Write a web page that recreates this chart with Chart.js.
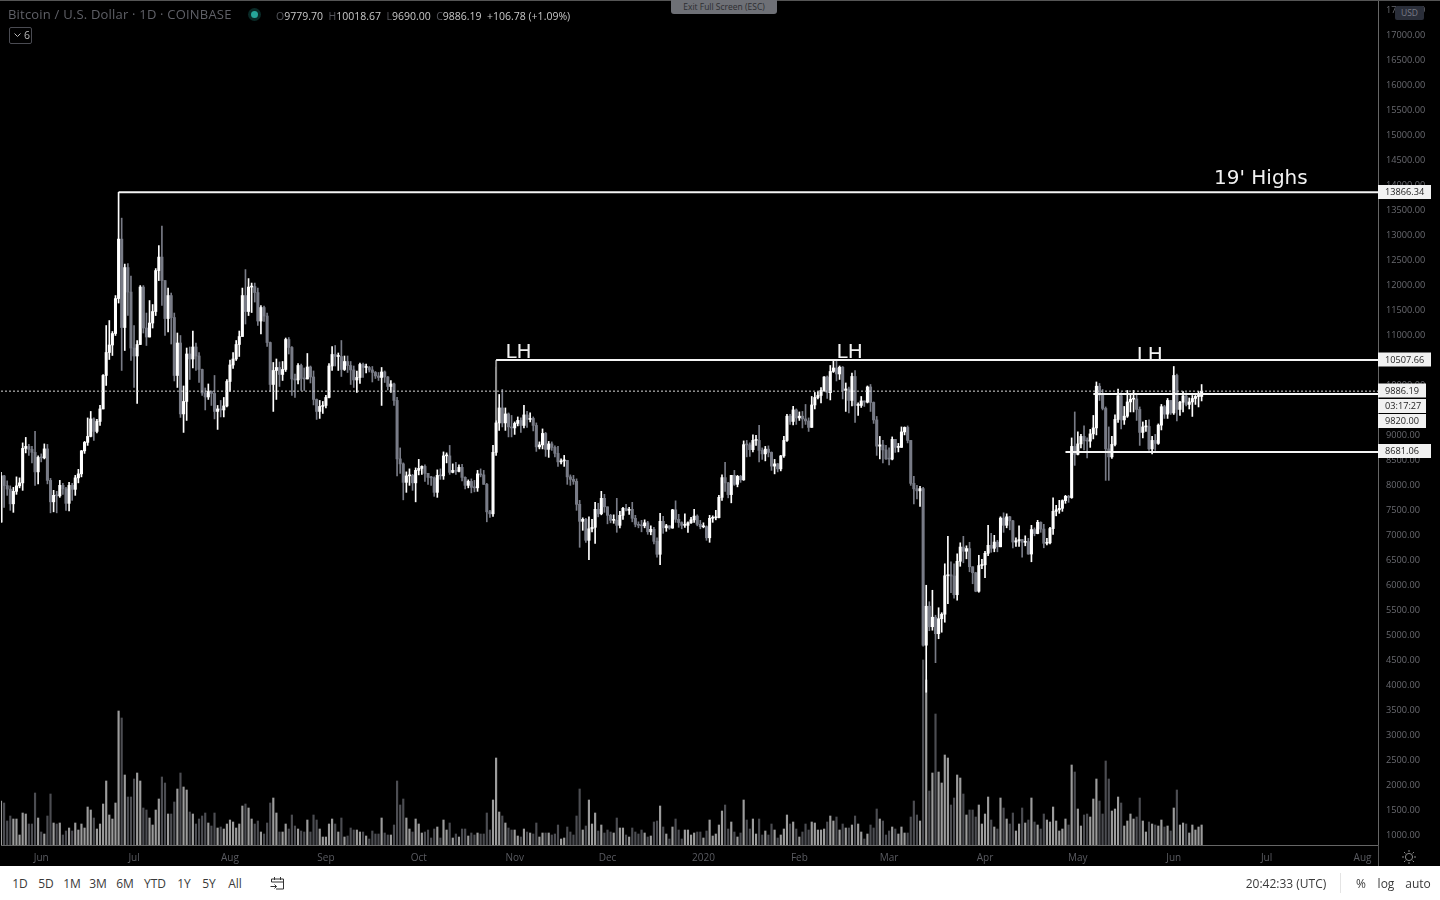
<!DOCTYPE html>
<html>
<head>
<meta charset="utf-8">
<title>Bitcoin / U.S. Dollar</title>
<script src="https://cdn.jsdelivr.net/npm/chart.js@4"></script>
<style>
    html, body { margin: 0; padding: 0; width: 1440px; height: 900px; background: #fff; overflow: hidden; font-family: "Open Sans", sans-serif; }
    #wrap { position: absolute; left: 0; top: 0; width: 1440px; height: 866px; background: #000; }
    #topline { position: absolute; left: 0; top: 0; width: 1440px; height: 1px; background: #555; }
    #title { position: absolute; left: 8px; top: 5px; font-size: 13px; color: #5f6067; letter-spacing: .2px; white-space: nowrap; }
    #dot { position: absolute; left: 251px; top: 11px; width: 7px; height: 7px; border-radius: 50%; background: #26a69a; box-shadow: 0 0 0 3px rgba(38,166,154,.25); }
    #ohlc { position: absolute; left: 276px; top: 9px; font-size: 10.5px; color: #c8c8c8; white-space: nowrap; }
    #ohlc i { font-style: normal; color: #55565c; }
    #fold { position: absolute; left: 9px; top: 27px; width: 21px; height: 15px; border: 1px solid #4a4b52; border-radius: 2px; color: #b8b8b8; font-size: 10.5px; line-height: 15px; white-space: nowrap; }
    #fold svg { position: absolute; left: 4px; top: 5px; }
    #fold span { position: absolute; left: 14px; top: 0; }
    #exit { position: absolute; left: 671px; top: 0; width: 106px; height: 14px; background: #6e7076; border-radius: 0 0 3px 3px; color: #2c2d31; font-size: 8.5px; line-height: 13px; text-align: center; }
    #usd { position: absolute; left: 1395px; top: 6px; width: 29px; height: 14px; background: #2a2e39; border-radius: 2px; color: #787b86; font-size: 8.5px; line-height: 14px; text-align: center; }
    #sep { position: absolute; left: 1378px; top: 845px; width: 1px; height: 21px; background: #555; }
    #gear { position: absolute; left: 1402px; top: 850px; }
    #bar { position: absolute; left: 0; top: 866px; width: 1440px; height: 34px; background: #fff; color: #3a3a3a; font-size: 12px; }
    #bar span { position: absolute; top: 9px; transform: translateX(-50%); white-space: nowrap; }
    #bar svg { position: absolute; left: 270px; top: 10px; }
    #bar b { position: absolute; left: 1340px; top: 7px; width: 1px; height: 20px; background: #e4e4e4; }
</style>
</head>
<body>
<div id="wrap"><canvas id="chart" width="1440" height="866"></canvas></div>
<div id="topline"></div>
<div id="title">Bitcoin / U.S. Dollar · 1D · COINBASE</div>
<div id="dot"></div>
<div id="ohlc"><i>O</i>9779.70 &nbsp;<i>H</i>10018.67 &nbsp;<i>L</i>9690.00 &nbsp;<i>C</i>9886.19 &nbsp;+106.78 (+1.09%)</div>
<div id="fold"><svg width="7" height="5" viewBox="0 0 7 5" fill="none" stroke="#b8b8b8" stroke-width="1"><path d="M0.5 0.5l3 3 3-3"/></svg><span>6</span></div>
<div id="exit">Exit Full Screen (ESC)</div>
<div id="usd">USD</div>
<div id="sep"></div>
<svg id="gear" width="14" height="14" viewBox="0 0 14 14" fill="none" stroke="#8a8a8a" stroke-width="1"><circle cx="7" cy="7" r="3.6"/><path d="M7 0v2M7 12v2M0 7h2M12 7h2M2 2l1.4 1.4M10.6 10.6L12 12M2 12l1.4-1.4M10.6 3.4L12 2"/></svg>
<div id="bar">
    <span style="left:20px">1D</span><span style="left:46px">5D</span><span style="left:72px">1M</span><span style="left:98px">3M</span><span style="left:125px">6M</span><span style="left:155px">YTD</span><span style="left:184px">1Y</span><span style="left:209px">5Y</span><span style="left:235px">All</span>
    <svg width="15" height="15" viewBox="0 0 15 15" fill="none" stroke="#333" stroke-width="1"><path d="M1.5 6V3h12v10H6M1.5 6h12M4.5 1v3M10.5 1v3M0.5 10.5h6M4.5 8.5l2 2-2 2"/></svg>
    <span style="left:1286px">20:42:33 (UTC)</span><b></b>
    <span style="left:1361px">%</span><span style="left:1386px">log</span><span style="left:1418px">auto</span>
</div>
<script>
// candles, one row per month, May 19 2019 -> Jun 10 2020
const opens = [
    7262,8190,7995,7925,7630,7880,7990,8050,8740,8780,8720,8660,8270,
    8560,8550,8730,8100,7670,7800,7790,8000,7930,7640,8000,7920,8150,8230,8690,8860,8980,9330,9080,9280,9530,10200,10660,10810,11040,11740,12930,11160,12360,11870,
    10750,10590,10820,11970,11150,10970,11250,11480,12300,12570,12100,11340,11800,11360,10200,10850,9430,9680,10630,10530,10770,10590,10320,9850,9770,9880,9840,9480,9530,9510,9590,
    10080,10410,10530,10820,10980,11800,11480,11970,11980,11860,11290,11560,11390,10860,10020,10300,10360,10220,10320,10920,10760,10130,10110,10400,10140,10130,10370,10170,9720,9480,9580,
    9600,9760,10390,10620,10580,10580,10320,10480,10400,10310,10110,10160,10420,10360,10360,10310,10260,10190,10160,10270,10170,9980,10030,9700,8530,8430,8060,8190,8200,8050,
    8300,8340,8380,8240,8160,8150,7860,8200,8190,8590,8590,8260,8300,8280,8360,8160,8000,8080,7960,7950,8230,8210,8020,7470,7430,8660,9250,9550,9250,9430,9170,
    9150,9240,9300,9200,9410,9320,9340,9200,8770,8810,9040,8720,8830,8760,8640,8470,8490,8500,8170,8120,8080,7620,7280,7320,6900,7130,7160,7520,7430,7740,
    7570,7400,7300,7300,7200,7400,7540,7500,7520,7340,7220,7200,7190,7250,7070,7120,6880,6620,7280,7150,7190,7145,7510,7320,7255,7200,7200,7250,7310,7385,7220,
    7170,7175,6950,7340,7350,7355,7760,8155,8050,7815,8200,8020,8180,8110,8815,8810,8715,8900,8900,8700,8630,8725,8660,8385,8430,8330,8590,8900,9385,9280,9510,
    9350,9385,9330,9290,9160,9610,9760,9800,9900,10170,9855,10280,10350,10230,10365,9900,9930,9700,10180,9600,9600,9690,9665,9970,9660,9310,8785,8810,8710,
    8530,8525,8920,8760,8760,9070,9160,8900,8040,7930,7890,7935,4800,5580,5170,5360,5030,5330,5420,6190,6210,6185,5810,6480,6765,6680,6735,6370,6250,5880,6395,
    6410,6640,6800,6740,6865,6770,7345,7200,7370,7290,6865,6890,6915,6860,6875,6625,7115,7035,7260,7125,6840,6850,7135,7480,7510,7540,7695,7780,7755,8780,
    8620,8830,8980,8895,8885,9030,9150,9985,9810,9540,8730,8570,8820,9320,9795,9310,9385,9670,9725,9730,9520,9060,9170,9180,8730,8900,8840,9205,9575,9425,9700,
    9450,10200,9520,9665,9790,9620,9670,9740,9780,9779.7
]
const highs = [
    8260,8200,8090,7990,7960,8170,8150,8850,8960,8820,8780,9080,8590,
    8630,8830,8820,8140,7900,7880,8100,8040,7960,8060,8040,8200,8320,8700,8880,9350,9480,9350,9320,9600,10220,11200,11300,11080,11800,13866,13350,12430,12440,12190,
    11200,10900,12000,12000,11450,11700,11620,12340,12800,13190,12100,11950,11850,11450,11050,11000,9990,10750,10770,11090,10850,10660,10330,9950,10030,9890,10200,9600,9700,9760,10120,
    10510,10660,10900,11090,11950,12320,12140,12050,12050,11950,11600,11590,11450,10870,10460,10530,10470,10480,10950,10960,10780,10230,10440,10430,10350,10640,10390,10290,9730,9700,9680,
    9800,10440,10780,10800,10650,10900,10590,10590,10480,10390,10290,10450,10450,10430,10380,10380,10280,10260,10360,10290,10180,10100,10050,9760,8750,8450,8270,8330,8220,8350,
    8520,8390,8410,8240,8180,8170,8310,8330,8670,8650,8800,8430,8460,8410,8420,8170,8110,8130,8100,8300,8330,8300,8040,7500,8800,10370,9820,9920,9550,9450,9400,
    9270,9370,9350,9600,9480,9450,9370,9250,8870,9130,9060,8880,8870,8790,8780,8530,8600,8500,8210,8200,8130,7700,7350,7340,7370,7320,7660,7640,7880,7820,
    7570,7420,7410,7740,7480,7560,7620,7560,7660,7400,7270,7300,7310,7280,7190,7160,6950,7440,7380,7220,7190,7520,7690,7420,7270,7430,7270,7360,7520,7410,7300,
    7250,7190,7400,7390,7500,7800,8210,8460,8060,8200,8300,8200,8200,8890,8900,8850,9010,9000,9200,8750,8780,8790,8670,8520,8440,8600,8980,9420,9420,9580,9530,
    9470,9480,9620,9350,9780,9860,9880,9960,10180,10190,10400,10500,10490,10390,10380,10050,9970,10250,10300,9650,9780,9690,9990,10020,9670,9380,8980,8900,8800,
    8750,8970,8920,8840,9170,9170,9190,8900,8180,8000,7980,7960,6000,5670,5900,5400,5550,5450,6430,6980,6470,6430,6630,6850,6980,6790,6860,6370,6260,6600,6520,
    6680,7200,7040,7000,6900,7370,7450,7430,7380,7300,6950,7190,6920,6990,6940,7200,7150,7300,7270,7220,6940,7160,7750,7600,7700,7710,7800,7800,8950,9470,
    9070,9020,9190,8950,9120,9400,10070,10040,9920,9570,9170,8980,9410,9930,9850,9580,9900,9820,9900,9830,9570,9270,9300,9310,8980,9020,9230,9620,9600,9740,9700,
    10380,10230,9680,9880,9850,9750,9800,9800,9880,10018.67
]
const lows = [
    7262,7560,7800,7500,7460,7820,7950,7900,8650,8600,8450,8000,8030,
    8470,8530,8030,7450,7470,7450,7760,7820,7500,7490,7700,7800,8050,8170,8640,8800,8970,8900,9050,9200,9530,10000,10520,10600,11000,11650,10300,10700,11400,10500,
    9960,9640,10820,11050,10800,10970,11150,11400,12100,11600,11000,11070,10830,10090,9960,9360,9060,9300,10120,10350,10300,10060,9800,9510,9720,9600,9330,9120,9370,9370,9570,
    9880,10340,10500,10580,10980,11230,11400,11460,11670,11200,11030,11280,10780,9880,9480,9720,9980,10100,10280,10630,9800,9760,10030,9900,9900,10130,10050,9610,9320,9340,9440,
    9550,9750,10300,10390,10300,10180,10300,10260,10020,9960,9860,10040,10160,10250,10270,10070,10140,10100,9600,10060,9910,9860,9600,8190,8240,7710,7860,8000,7900,7670,
    8210,8220,8080,8020,8000,7780,7760,8120,8120,8450,8220,8250,8220,8270,8090,7930,7950,7850,7870,7880,8170,8020,7270,7360,7380,8600,9100,9170,9100,8970,8970,
    9020,9190,9060,9150,9160,9270,9090,8680,8730,8730,8580,8560,8700,8570,8380,8430,8380,8020,8000,8020,7500,6760,7100,6860,6510,7070,6840,7370,7410,7460,
    7230,7250,7240,7060,7150,7320,7490,7420,7270,7170,7150,7070,7150,7020,7010,6830,6560,6410,7040,7080,7120,7140,7260,7160,7130,7160,7060,7240,7260,7190,7130,
    7150,6900,6860,7260,7310,7350,7700,7880,7750,7650,8000,7970,8060,8100,8570,8580,8670,8800,8470,8520,8490,8570,8300,8230,8270,8290,8560,8880,9220,9210,9220,
    9300,9150,9220,9080,9160,9530,9730,9650,9880,9740,9710,10260,10090,10120,9730,9480,9450,9590,9260,9400,9560,9580,9650,9480,9240,8600,8530,8450,8520,
    8410,8510,8660,8670,8760,9010,8850,8000,7630,7730,7580,4780,3858,5090,5100,4450,4930,5060,5260,5630,5850,5740,5700,6380,6450,6530,6270,6030,5870,5860,6330,
    6150,6590,6660,6670,6670,6770,7060,7150,7110,6750,6780,6780,6560,6790,6620,6470,6990,7030,7060,6750,6810,6830,7020,7390,7440,7480,7640,7660,7740,8400,
    8610,8750,8710,8550,8760,8930,9010,9700,9510,8100,8100,8540,8790,9260,9130,9220,9360,9470,9470,9300,8800,8950,9080,8700,8630,8700,8820,9110,9340,9340,9420,
    9420,9290,9400,9470,9590,9530,9380,9620,9570,9690
]
const closes = [
    8190,7995,7925,7630,7880,7990,8050,8740,8780,8720,8660,8270,8560,
    8550,8730,8100,7670,7800,7790,8000,7930,7640,8000,7920,8150,8230,8690,8860,8980,9330,9080,9280,9530,10200,10660,10810,11040,11740,12930,11160,12360,11870,10750,
    10590,10820,11970,11150,10970,11250,11480,12300,12570,12100,11340,11800,11360,10200,10850,9430,9680,10630,10530,10770,10590,10320,9850,9770,9880,9840,9480,9530,9510,9590,10080,
    10410,10530,10820,10980,11800,11480,11970,11980,11860,11290,11560,11390,10860,10020,10300,10360,10220,10320,10920,10760,10130,10110,10400,10140,10130,10370,10170,9720,9480,9580,9600,
    9760,10390,10620,10580,10580,10320,10480,10400,10310,10110,10160,10420,10360,10360,10310,10260,10190,10160,10270,10170,9980,10030,9700,8530,8430,8060,8190,8200,8050,8300,
    8340,8380,8240,8160,8150,7860,8200,8190,8590,8590,8260,8300,8280,8360,8160,8000,8080,7960,7950,8230,8210,8020,7470,7430,8660,9250,9550,9250,9430,9170,9150,
    9240,9300,9200,9410,9320,9340,9200,8770,8810,9040,8720,8830,8760,8640,8470,8490,8500,8170,8120,8080,7620,7280,7320,6900,7130,7160,7520,7430,7740,7570,
    7400,7300,7300,7200,7400,7540,7500,7520,7340,7220,7200,7190,7250,7070,7120,6880,6620,7280,7150,7190,7145,7510,7320,7255,7200,7200,7250,7310,7385,7220,7170,
    7175,6950,7340,7350,7355,7760,8155,8050,7815,8200,8020,8180,8110,8815,8810,8715,8900,8900,8700,8630,8725,8660,8385,8430,8330,8590,8900,9385,9280,9510,9350,
    9385,9330,9290,9160,9610,9760,9800,9900,10170,9855,10280,10350,10230,10365,9900,9930,9700,10180,9600,9600,9690,9665,9970,9660,9310,8785,8810,8710,8530,
    8525,8920,8760,8760,9070,9160,8900,8040,7930,7890,7935,4800,5580,5170,5360,5030,5330,5420,6190,6210,6185,5810,6480,6765,6680,6735,6370,6250,5880,6395,6410,
    6640,6800,6740,6865,6770,7345,7200,7370,7290,6865,6890,6915,6860,6875,6625,7115,7035,7260,7125,6840,6850,7135,7480,7510,7540,7695,7780,7755,8780,8620,
    8830,8980,8895,8885,9030,9150,9985,9810,9540,8730,8570,8820,9320,9795,9310,9385,9670,9725,9730,9520,9060,9170,9180,8730,8900,8840,9205,9575,9425,9700,9450,
    10200,9520,9665,9790,9620,9670,9740,9780,9780,9886.19
]
// volume, hundreds of BTC
const volumes = [
    44,42,24,29,26,26,10,32,31,21,21,52,27,13,11,29,51,22,21,22,10,14,17,14,22,15,21,17,38,35,27,16,21,41,64,30,26,42,134,127,
    70,48,48,66,72,64,37,35,27,20,35,46,68,62,31,31,43,56,72,58,55,33,31,21,26,29,32,22,19,32,17,18,16,21,25,23,17,21,39,41,
    37,26,21,24,13,11,22,42,47,32,13,13,21,16,30,19,16,14,13,25,13,30,25,16,8,8,21,26,21,13,27,8,9,17,15,15,13,13,9,6,
    14,11,11,27,12,10,10,20,64,40,46,27,16,13,26,21,12,13,15,7,16,18,7,25,15,22,7,11,8,16,16,9,12,10,12,11,11,32,15,45,
    87,33,29,22,17,15,15,9,8,16,13,12,11,22,8,12,12,12,10,11,20,6,7,18,13,10,29,56,15,19,45,21,32,14,20,12,15,13,12,27,
    17,17,10,8,17,13,11,15,12,8,9,23,24,39,18,11,6,18,26,15,6,15,15,10,12,13,13,7,14,25,9,11,20,34,40,16,23,13,8,12,
    45,25,16,26,11,26,10,14,10,21,15,7,10,16,30,21,23,16,8,13,21,15,23,22,15,15,16,23,29,24,28,15,21,17,17,20,29,21,13,6,
    11,20,17,36,26,24,10,14,18,16,11,18,12,12,28,44,30,24,185,165,
    54,72,131,73,62,90,87,40,47,70,67,51,30,35,35,28,40,21,31,48,25,18,16,47,37,26,21,32,14,21,37,22,25,47,23,20,16,31,25,23,
    38,24,14,16,26,20,80,73,36,19,30,31,28,46,66,44,31,84,66,34,36,48,42,19,24,31,26,28,47,24,13,23,21,20,19,25,18,19,14,37,
    55,20,22,21,12,20,15,18,20
]

const priceTicks = [1000,1500,2000,2500,3000,3500,4000,4500,5000,5500,6000,6500,7000,7500,8000,8500,9000,9500,10000,10500,11000,11500,12000,12500,13000,13500,14000,14500,15000,15500,16000,16500,17000,17500]
const monthDates = ['2019-06-01','2019-07-01','2019-08-01','2019-09-01','2019-10-01','2019-11-01','2019-12-01','2020-01-01','2020-02-01','2020-03-01','2020-04-01','2020-05-01','2020-06-01','2020-07-01','2020-08-01']
const monthNames = ['Jun','Jul','Aug','Sep','Oct','Nov','Dec','2020','Feb','Mar','Apr','May','Jun','Jul','Aug']

const highs19 = 13866.34
const lowerHigh = 10507.66
const rangeTop = 9829
const rangeBottom = 8670
const lastClose = 9886.19

// one slot per day, the axis runs on past the last candle
const dates = []
for (let i = 0; i < 446; i++) {
    dates.push(new Date(Date.UTC(2019, 4, 19 + i)).toISOString().slice(0, 10))
}
const lastDate = dates[dates.length - 1]

const upColor = '#ffffff'
const downColor = '#787b86'
const candleColor = (ctx) => closes[ctx.dataIndex] >= opens[ctx.dataIndex] ? upColor : downColor
const volumeColor = (ctx) => closes[ctx.dataIndex] >= opens[ctx.dataIndex] ? '#9c9c9c' : '#4c4d52'

const levelLine = (from, value, color, width, dash) => ({
    type: 'line',
    data: [{x: from, y: value}, {x: lastDate, y: value}],
    borderColor: color,
    borderWidth: width,
    borderDash: dash || [],
    pointRadius: 0,
    order: 0
})

const notes = [
    {text: "19' Highs", date: '2020-06-14', value: 14035},
    {text: 'LH', date: '2019-10-29', value: 10540},
    {text: 'LH', date: '2020-02-13', value: 10540},
    {text: 'LH', date: '2020-05-20', value: 10490}
]

// text that sits under the drawn lines
const notesPlugin = {
    id: 'notes',
    beforeDatasetsDraw(chart) {
        const {ctx, scales} = chart
        ctx.save()
        ctx.fillStyle = '#f2f2f2'
        ctx.font = '20px "DejaVu Sans"'
        ctx.textBaseline = 'alphabetic'
        notes.forEach(n => {
            ctx.fillText(n.text, scales.x.getPixelForValue(dates.indexOf(n.date)), scales.y.getPixelForValue(n.value))
        })
        ctx.restore()
    }
}

const priceTags = [
    {text: highs19.toFixed(2), y: 192, w: 53},
    {text: lowerHigh.toFixed(2), y: 359.5, w: 53},
    {text: lastClose.toFixed(2), y: 390.5, w: 48},
    {text: '03:17:27', y: 406, w: 48},
    {text: '9820.00', y: 421, w: 48},
    {text: '8681.06', y: 451, w: 53}
]

const tagsPlugin = {
    id: 'tags',
    afterDraw(chart) {
        const {ctx} = chart
        ctx.save()
        ctx.font = '9.2px "Open Sans"'
        ctx.textBaseline = 'middle'
        priceTags.forEach(t => {
            ctx.fillStyle = '#f1f1f1'
            ctx.fillRect(1378, t.y - 7, t.w, 14)
            ctx.fillStyle = '#1e1e1e'
            ctx.fillText(t.text, 1385, t.y + 0.5)
        })
        ctx.restore()
    }
}

new Chart(document.getElementById('chart'), {
    type: 'bar',
    data: {
        labels: dates,
        datasets: [
            levelLine('2019-06-26', highs19, '#f4f4f4', 2),
            levelLine('2019-10-26', lowerHigh, '#f4f4f4', 2),
            levelLine('2020-05-06', rangeTop, '#f4f4f4', 2),
            levelLine('2020-04-27', rangeBottom, '#f4f4f4', 2),
            levelLine(dates[0], lastClose, '#d8d8d8', 1, [2, 2]),
            {
                type: 'line',
                data: [{x: '2019-10-26', y: 9300}, {x: '2019-10-26', y: lowerHigh}],
                borderColor: '#8a8a8a',
                borderWidth: 2,
                pointRadius: 0,
                order: 0.5
            },
            {
                data: opens.map((o, i) => [Math.min(o, closes[i]), Math.max(o, closes[i])]),
                backgroundColor: candleColor,
                barThickness: 2.4,
                minBarLength: 1,
                grouped: false,
                order: 1
            },
            {
                data: lows.map((l, i) => [l, highs[i]]),
                backgroundColor: candleColor,
                barThickness: 1,
                grouped: false,
                order: 2
            },
            {
                data: volumes,
                yAxisID: 'v',
                backgroundColor: volumeColor,
                barThickness: 1.5,
                grouped: false,
                order: 3
            }
        ]
    },
    options: {
        responsive: false,
        animation: false,
        layout: {padding: {left: 1}},
        plugins: {legend: {display: false}, tooltip: {enabled: false}},
        events: [],
        scales: {
            x: {
                offset: false,
                grid: {display: false, drawTicks: true, tickLength: 3, tickColor: '#555'},
                border: {color: '#666'},
                afterFit: (axis) => {
                    axis.height = 21
                    axis.paddingLeft = 0
                    axis.paddingRight = 0
                },
                afterBuildTicks: (axis) => {
                    axis.ticks = monthDates.map(d => ({value: dates.indexOf(d)}))
                },
                ticks: {
                    autoSkip: false,
                    maxRotation: 0,
                    color: '#5a5b61',
                    font: {family: 'Open Sans', size: 10},
                    padding: 4,
                    callback: (value) => monthNames[monthDates.indexOf(dates[value])]
                }
            },
            y: {
                position: 'right',
                min: 800,
                max: 17717,
                grid: {display: false, tickLength: 4, tickColor: '#666'},
                border: {color: '#666'},
                afterFit: (axis) => {
                    axis.width = 62
                    axis.paddingTop = 0
                    axis.paddingBottom = 0
                },
                afterBuildTicks: (axis) => {
                    axis.ticks = priceTicks.map(v => ({value: v}))
                },
                ticks: {
                    color: '#6a6b71',
                    font: {family: 'Open Sans', size: 9.2},
                    padding: 4,
                    callback: (value) => value.toFixed(2)
                }
            },
            v: {
                display: false,
                min: 0,
                max: 845
            }
        }
    },
    plugins: [notesPlugin, tagsPlugin]
})
</script>
</body>
</html>
